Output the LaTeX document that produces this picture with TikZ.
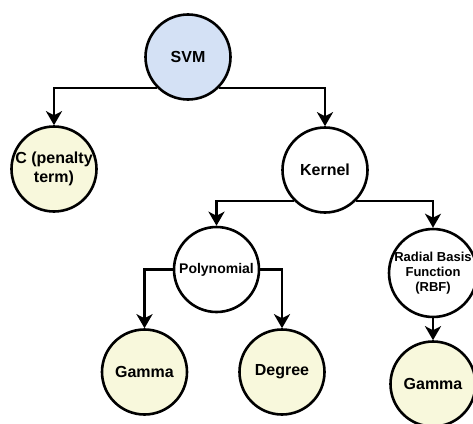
\documentclass[tikz,border=0pt]{standalone}
\usepackage{fontspec}
\setmainfont{Liberation Sans}
\usetikzlibrary{arrows.meta}
\definecolor{svmblue}{HTML}{D4E1F5}
\definecolor{leafyellow}{HTML}{F8F8DC}
\begin{document}
\begin{tikzpicture}[x=1pt,y=-1pt,
  circ/.style={circle, draw=black, line width=2.6pt, minimum size=85pt, inner sep=0pt, align=center, font=\bfseries\fontsize{16}{19}\selectfont},
  leaf/.style={circ, fill=leafyellow},
  mid/.style={circ, fill=white},
  conn/.style={line width=2.6pt, -{Stealth[length=14pt,width=16pt,inset=4pt]}}
]
\useasboundingbox (0,0) rectangle (473,423);
\node[circ, fill=svmblue] (svm) at (188,57) {SVM};
\node[leaf] (c) at (54,169) {C (penalty\\term)};
\node[mid] (kernel) at (325,170) {Kernel};
\node[mid, font=\bfseries\fontsize{14}{16}\selectfont] (poly) at (216.5,269.5) {Polynomial};
\node[mid, font=\bfseries\fontsize{13}{15}\selectfont] (rbf) at (433,273) {Radial Basis\\Function\\(RBF)};
\node[leaf] (g1) at (144.5,372) {Gamma};
\node[leaf] (deg) at (282,372) {Degree};
\node[leaf] (g2) at (433,384) {Gamma};
\draw[conn] (svm.south west) -| (c.north);
\draw[conn] (svm.south east) -| (kernel.north);
\draw[conn] (kernel.south west) -| (poly.north);
\draw[conn] (kernel.south east) -| (rbf.north);
\draw[conn] (poly.west) -| (g1.north);
\draw[conn] (poly.east) -| (deg.north);
\draw[conn] (rbf.south) -- (g2.north);
\end{tikzpicture}
\end{document}
